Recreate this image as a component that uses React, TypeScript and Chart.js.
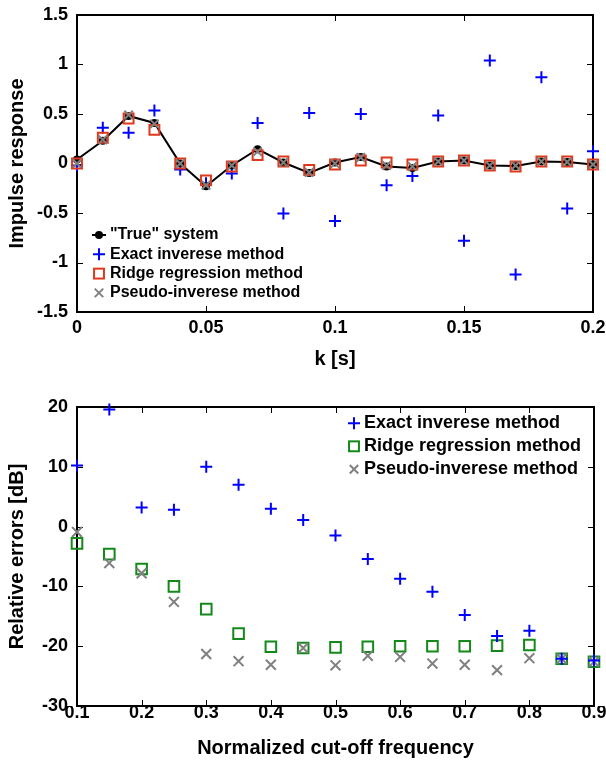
import React, { useEffect, useRef } from 'react';
import { Chart, registerables } from 'chart.js';

Chart.register(...registerables);

const FONT = "'Liberation Sans', Arial, Helvetica, sans-serif";

// ---------- Top chart data ----------
const kValues = [0, 0.01, 0.02, 0.03, 0.04, 0.05, 0.06, 0.07, 0.08, 0.09, 0.1, 0.11, 0.12, 0.13, 0.14, 0.15, 0.16, 0.17, 0.18, 0.19, 0.2];
const trueSystem = [0.04, 0.23, 0.48, 0.41, 0.0, -0.23, -0.02, 0.145, 0.01, -0.095, 0.01, 0.065, -0.03, -0.045, 0.02, 0.03, -0.02, -0.025, 0.02, 0.015, -0.01];
const exactTop = [-0.02, 0.36, 0.31, 0.535, -0.06, -0.2, -0.1, 0.41, -0.505, 0.51, -0.58, 0.5, -0.22, -0.125, 0.485, -0.78, 1.04, -1.12, 0.87, -0.455, 0.125];
const ridgeTop = [0.0, 0.26, 0.455, 0.34, 0.0, -0.17, -0.03, 0.085, 0.02, -0.065, -0.01, 0.03, 0.01, -0.01, 0.02, 0.03, -0.02, -0.03, 0.02, 0.02, -0.01];
const pseudoTop = [0.0, 0.24, 0.49, 0.4, 0.0, -0.22, -0.02, 0.12, 0.01, -0.09, 0.0, 0.06, -0.02, -0.03, 0.02, 0.03, -0.02, -0.02, 0.02, 0.015, -0.01];

// ---------- Bottom chart data ----------
const cutoff = [0.1, 0.15, 0.2, 0.25, 0.3, 0.35, 0.4, 0.45, 0.5, 0.55, 0.6, 0.65, 0.7, 0.75, 0.8, 0.85, 0.9];
const exactErr = [10.2, 19.6, 3.2, 2.8, 10.0, 7.0, 3.0, 1.1, -1.5, -5.4, -8.7, -10.9, -14.8, -18.3, -17.4, -22.1, -22.4];
const ridgeErr = [-2.8, -4.6, -7.1, -10.0, -13.8, -17.9, -20.1, -20.3, -20.2, -20.1, -20.0, -20.0, -20.0, -19.9, -19.8, -22.1, -22.6];
const pseudoErr = [-0.9, -6.1, -7.8, -12.6, -21.3, -22.5, -23.1, -20.3, -23.2, -21.6, -21.8, -22.9, -23.1, -24.0, -22.0, -22.1, -22.6];

const topXTicks = [0, 0.05, 0.1, 0.15, 0.2];
const topYTicks = [-1.5, -1, -0.5, 0, 0.5, 1, 1.5];
const botXTicks = [0.1, 0.2, 0.3, 0.4, 0.5, 0.6, 0.7, 0.8, 0.9];
const botYTicks = [-30, -20, -10, 0, 10, 20];

const BLUE = '#0000ff';
const RED = '#e0381c';
const GREEN = '#13891a';
const GRAY = '#808080';

const pts = (xs: number[], ys: number[]) => xs.map((x, i) => ({ x, y: ys[i] }));
const fmt = (v: number) => String(Number(Number(v).toFixed(3)));

function drawMarker(ctx: CanvasRenderingContext2D, style: string, color: string, r: number, x: number, y: number, withLine?: boolean) {
  ctx.save();
  ctx.strokeStyle = color;
  ctx.fillStyle = color;
  ctx.lineWidth = 2;
  if (withLine) {
    ctx.beginPath();
    ctx.moveTo(x - 7, y);
    ctx.lineTo(x + 7, y);
    ctx.stroke();
  }
  ctx.beginPath();
  if (style === 'circle') {
    ctx.arc(x, y, r, 0, Math.PI * 2);
    ctx.fill();
  } else if (style === 'cross') {
    ctx.moveTo(x - r, y); ctx.lineTo(x + r, y);
    ctx.moveTo(x, y - r); ctx.lineTo(x, y + r);
    ctx.stroke();
  } else if (style === 'crossRot') {
    const d = r * Math.SQRT1_2;
    ctx.moveTo(x - d, y - d); ctx.lineTo(x + d, y + d);
    ctx.moveTo(x - d, y + d); ctx.lineTo(x + d, y - d);
    ctx.stroke();
  } else if (style === 'rect') {
    const d = r * Math.SQRT1_2;
    ctx.strokeRect(x - d, y - d, 2 * d, 2 * d);
  }
  ctx.restore();
}

const boxPlugin = {
  id: 'matlabBox',
  beforeDatasetsDraw(chart: any) {
    const { ctx, chartArea: a, scales } = chart;
    const xs = scales.x, ys = scales.y;
    const tl = 6;
    ctx.save();
    ctx.strokeStyle = '#000';
    ctx.lineWidth = 1;
    ctx.beginPath();
    xs.ticks.forEach((t: any) => {
      const p = Math.round(xs.getPixelForValue(t.value)) + 0.5;
      ctx.moveTo(p, a.bottom); ctx.lineTo(p, a.bottom - tl);
      ctx.moveTo(p, a.top); ctx.lineTo(p, a.top + tl);
    });
    ys.ticks.forEach((t: any) => {
      const p = Math.round(ys.getPixelForValue(t.value)) + 0.5;
      ctx.moveTo(a.left, p); ctx.lineTo(a.left + tl, p);
      ctx.moveTo(a.right, p); ctx.lineTo(a.right - tl, p);
    });
    ctx.stroke();
    ctx.lineWidth = 2;
    ctx.strokeRect(a.left, a.top, a.right - a.left, a.bottom - a.top);
    ctx.restore();
  },
};

const legendPlugin = {
  id: 'customLegend',
  afterDraw(chart: any, _args: any, opts: any) {
    const { ctx, chartArea: a } = chart;
    const baseX = opts.anchorX === 'right' ? a.right + opts.dx : a.left + opts.dx;
    const baseY = opts.anchorY === 'bottom' ? a.bottom + opts.dy : a.top + opts.dy;
    ctx.save();
    ctx.font = `bold ${opts.fontSize}px ${FONT}`;
    ctx.textBaseline = 'middle';
    ctx.textAlign = 'left';
    opts.items.forEach((it: any, i: number) => {
      const y = baseY + i * opts.rowHeight;
      drawMarker(ctx, it.style, it.color, it.r, baseX, y, it.line);
      ctx.fillStyle = '#000';
      ctx.fillText(it.label, baseX + opts.textGap, y);
    });
    ctx.restore();
  },
};

function makeScales(opts: {
  xMin: number; xMax: number; xTicks: number[]; yMin: number; yMax: number; yTicks: number[];
  xTitle: string; yTitle: string; xHeight: number; yWidth: number; xPad: number; xTitlePad: number;
}) {
  const tickFont = { family: FONT, size: 18, weight: 'bold' as const, lineHeight: 1 };
  const titleFont = { family: FONT, size: 20, weight: 'bold' as const, lineHeight: 1.2 };
  return {
    x: {
      type: 'linear' as const,
      position: 'bottom' as const,
      min: opts.xMin,
      max: opts.xMax,
      afterBuildTicks(scale: any) { scale.ticks = opts.xTicks.map((v) => ({ value: v })); },
      ticks: { color: '#000', font: tickFont, padding: opts.xPad, maxRotation: 0, autoSkip: false, callback: (v: any) => fmt(v) },
      grid: { display: false, drawTicks: false, tickLength: 0 },
      border: { display: false },
      title: { display: true, text: opts.xTitle, color: '#000', font: titleFont, padding: { top: 0, bottom: opts.xTitlePad } },
      afterFit(scale: any) {
        scale.height = opts.xHeight;
        scale.paddingLeft = 0; scale.paddingRight = 0; scale.paddingTop = 0; scale.paddingBottom = 0;
      },
    },
    y: {
      type: 'linear' as const,
      position: 'left' as const,
      min: opts.yMin,
      max: opts.yMax,
      afterBuildTicks(scale: any) { scale.ticks = opts.yTicks.map((v) => ({ value: v })); },
      ticks: { color: '#000', font: tickFont, padding: 9, autoSkip: false, callback: (v: any) => fmt(v) },
      grid: { display: false, drawTicks: false, tickLength: 0 },
      border: { display: false },
      title: { display: true, text: opts.yTitle, color: '#000', font: titleFont, padding: { top: 5, bottom: 0 } },
      afterFit(scale: any) {
        scale.width = opts.yWidth;
        scale.paddingLeft = 0; scale.paddingRight = 0; scale.paddingTop = 0; scale.paddingBottom = 0;
      },
    },
  };
}

function TopChart() {
  const ref = useRef<HTMLCanvasElement | null>(null);
  useEffect(() => {
    if (!ref.current) return;
    const chart = new Chart(ref.current, {
      type: 'scatter',
      data: {
        datasets: [
          { label: 'Pseudo-inverese method', data: pts(kValues, pseudoTop), pointStyle: 'crossRot', pointRadius: 6, pointBorderColor: GRAY, borderColor: GRAY, pointBorderWidth: 2, order: 0, clip: false },
          { label: 'Ridge regression method', data: pts(kValues, ridgeTop), pointStyle: 'rect', pointRadius: 7, pointBorderColor: RED, borderColor: RED, pointBackgroundColor: 'rgba(0,0,0,0)', pointBorderWidth: 2, order: 1, clip: false },
          { label: '"True" system', data: pts(kValues, trueSystem), showLine: true, borderColor: '#000', borderWidth: 2, pointStyle: 'circle', pointRadius: 4, pointBackgroundColor: '#000', pointBorderColor: '#000', pointBorderWidth: 0, order: 2, clip: false },
          { label: 'Exact inverese method', data: pts(kValues, exactTop), pointStyle: 'cross', pointRadius: 6, pointBorderColor: BLUE, borderColor: BLUE, pointBorderWidth: 2, order: 3, clip: false },
        ],
      } as any,
      options: {
        responsive: false,
        animation: false,
        events: [],
        layout: { padding: { top: 15, right: 13, left: 0, bottom: 0 } },
        plugins: {
          legend: { display: false },
          tooltip: { enabled: false },
          customLegend: {
            anchorX: 'left', anchorY: 'bottom', dx: 22, dy: -77, rowHeight: 19.3, textGap: 11, fontSize: 16,
            items: [
              { label: '"True" system', style: 'circle', color: '#000', r: 4, line: true },
              { label: 'Exact inverese method', style: 'cross', color: BLUE, r: 6 },
              { label: 'Ridge regression method', style: 'rect', color: RED, r: 7 },
              { label: 'Pseudo-inverese method', style: 'crossRot', color: GRAY, r: 6 },
            ],
          },
        } as any,
        scales: makeScales({
          xMin: 0, xMax: 0.2, xTicks: topXTicks, yMin: -1.5, yMax: 1.5, yTicks: topYTicks,
          xTitle: 'k [s]', yTitle: 'Impulse response', xHeight: 68, yWidth: 77, xPad: 7, xTitlePad: 9,
        }) as any,
      },
      plugins: [boxPlugin, legendPlugin],
    });
    return () => chart.destroy();
  }, []);
  return <canvas ref={ref} width={606} height={380} style={{ display: 'block' }} />;
}

function BottomChart() {
  const ref = useRef<HTMLCanvasElement | null>(null);
  useEffect(() => {
    if (!ref.current) return;
    const chart = new Chart(ref.current, {
      type: 'scatter',
      data: {
        datasets: [
          { label: 'Exact inverese method', data: pts(cutoff, exactErr), pointStyle: 'cross', pointRadius: 6, pointBorderColor: BLUE, borderColor: BLUE, pointBorderWidth: 2, order: 0, clip: false },
          { label: 'Pseudo-inverese method', data: pts(cutoff, pseudoErr), pointStyle: 'crossRot', pointRadius: 7, pointBorderColor: GRAY, borderColor: GRAY, pointBorderWidth: 2, order: 1, clip: false },
          { label: 'Ridge regression method', data: pts(cutoff, ridgeErr), pointStyle: 'rect', pointRadius: 7.5, pointBorderColor: GREEN, borderColor: GREEN, pointBackgroundColor: 'rgba(0,0,0,0)', pointBorderWidth: 2, order: 2, clip: false },
        ],
      } as any,
      options: {
        responsive: false,
        animation: false,
        events: [],
        layout: { padding: { top: 27, right: 12, left: 0, bottom: 0 } },
        plugins: {
          legend: { display: false },
          tooltip: { enabled: false },
          customLegend: {
            anchorX: 'right', anchorY: 'top', dx: -240, dy: 16.3, rowHeight: 23, textGap: 10, fontSize: 18,
            items: [
              { label: 'Exact inverese method', style: 'cross', color: BLUE, r: 6 },
              { label: 'Ridge regression method', style: 'rect', color: GREEN, r: 7 },
              { label: 'Pseudo-inverese method', style: 'crossRot', color: GRAY, r: 6 },
            ],
          },
        } as any,
        scales: makeScales({
          xMin: 0.1, xMax: 0.9, xTicks: botXTicks, yMin: -30, yMax: 20, yTicks: botYTicks,
          xTitle: 'Normalized cut-off frequency', yTitle: 'Relative errors [dB]', xHeight: 60, yWidth: 77, xPad: -2, xTitlePad: 6,
        }) as any,
      },
      plugins: [boxPlugin, legendPlugin],
    });
    return () => chart.destroy();
  }, []);
  return <canvas ref={ref} width={606} height={386} style={{ display: 'block' }} />;
}

export default function App() {
  return (
    <div style={{ position: 'absolute', left: 0, top: 0, width: 606, height: 766, background: '#fff', overflow: 'hidden' }}>
      <div style={{ position: 'absolute', left: 0, top: 0, width: 606, height: 380 }}>
        <TopChart />
      </div>
      <div style={{ position: 'absolute', left: 0, top: 380, width: 606, height: 386 }}>
        <BottomChart />
      </div>
    </div>
  );
}
